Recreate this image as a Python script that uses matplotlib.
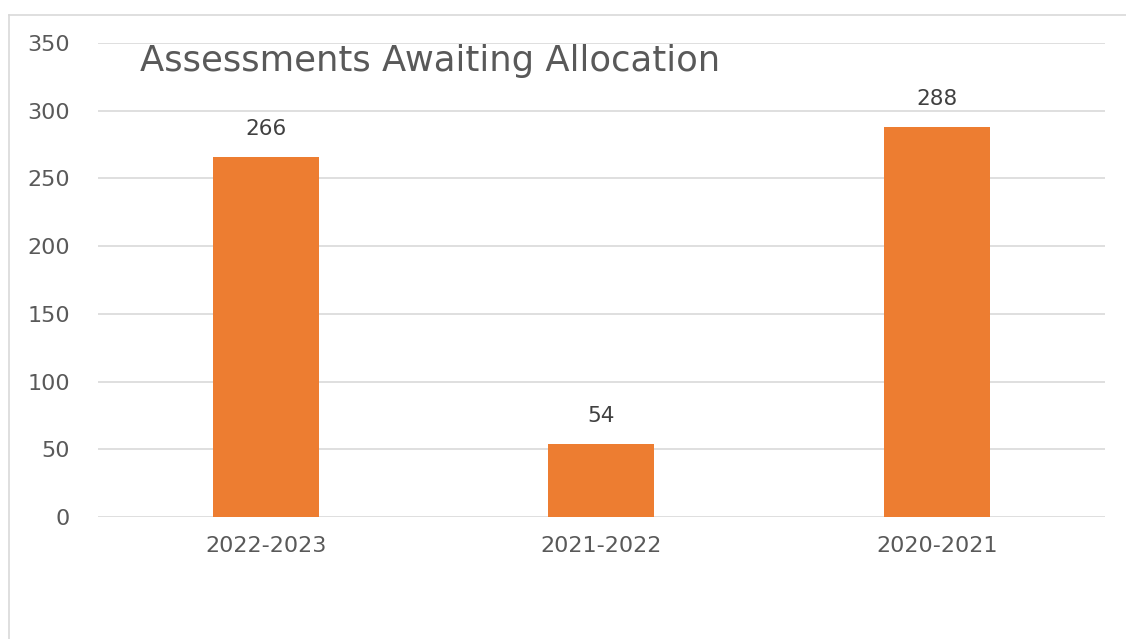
import numpy as np
import matplotlib.pyplot as plt

# datos del grafico
categorias = ["2022-2023", "2021-2022", "2020-2021"]
valores = [266, 54, 288]
ticks_y = [0, 50, 100, 150, 200, 250, 300, 350]

plt.rcParams['font.family'] = ['DejaVu Sans']
gris = '#595959'

fig = plt.figure(figsize=(11.26, 6.39), dpi=100)
ax = fig.add_axes([0.087, 0.191, 0.8943, 0.7418])

x = np.arange(len(categorias))
barras = ax.bar(x, valores, width=0.316, color='#ED7D31', zorder=3)

# etiquetas de valor sobre cada barra
for xi, v in zip(x, valores):
    ax.text(xi, v + 13, str(v), ha='center', va='bottom', fontsize=15.5, color='#404040')

ax.set_xlim(-0.5, len(categorias) - 0.5)
ax.set_ylim(0, 350)
ax.set_yticks(ticks_y)
ax.set_xticks(x)
ax.set_xticklabels(categorias)
ax.tick_params(axis='both', length=0, labelsize=16, labelcolor=gris)
ax.tick_params(axis='y', pad=20)
ax.tick_params(axis='x', pad=14)
ax.grid(axis='y', color='#D9D9D9', linewidth=1.2, zorder=0)
for s in ax.spines.values():
    s.set_visible(False)

fig.text(140 / 1126, 1 - 61 / 639, "Assessments Awaiting Allocation",
         fontsize=25.5, color=gris, ha='left', va='center')

# marco del grafico (solo se ven los bordes izquierdo y superior)
fig.add_artist(plt.Line2D([9 / 1126, 9 / 1126], [0, 1 - 15 / 639], color='#D9D9D9', lw=1.2))
fig.add_artist(plt.Line2D([9 / 1126, 1], [1 - 15 / 639, 1 - 15 / 639], color='#D9D9D9', lw=1.2))

fig.savefig('out.png', dpi=100)
